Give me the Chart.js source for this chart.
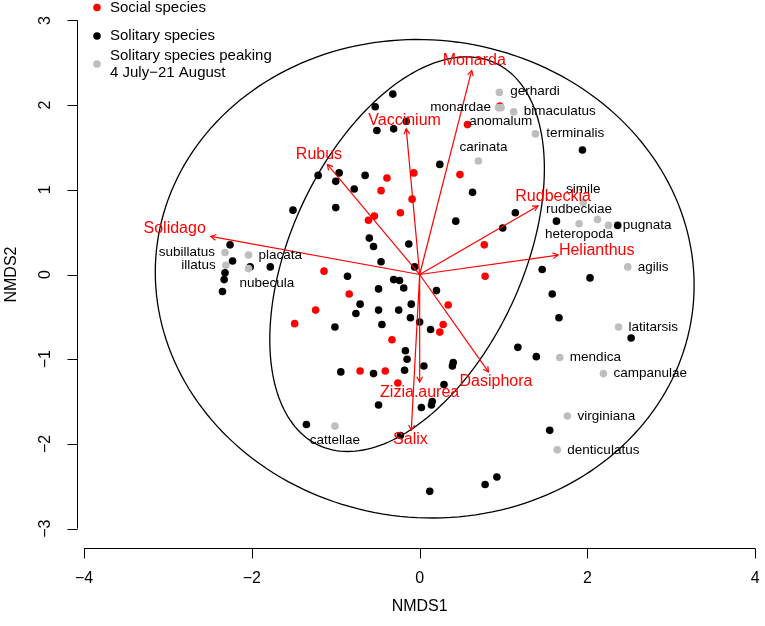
<!DOCTYPE html>
<html>
<head>
<meta charset="utf-8">
<script src="https://cdn.jsdelivr.net/npm/chart.js@4.4.1/dist/chart.umd.min.js"></script>
<style>
html, body { margin: 0; padding: 0; background: #fff; }
canvas { display: block; }
</style>
</head>
<body>
<canvas id="nmds" width="765" height="626"></canvas>
<script>
// site scores, solitary species (black)
var soloX = [-0.32,-0.53,-0.16,-0.51,-0.31,0.24,-0.96,-1.21,-0.65,-1.00,-0.78,0.63,-1.51,-1.00,0.43,0.99,1.14,-0.60,-0.55,-0.13,
	-0.46,-0.06,-1.78,-0.86,-0.31,-0.24,-0.19,-0.49,0.20,-0.71,-0.10,-0.76,-0.49,-0.25,-0.11,0.00,-0.45,-1.01,0.13,-0.17,
	-0.15,0.05,0.40,0.39,-0.94,-0.55,-0.18,0.29,-0.49,0.02,0.15,0.14,-1.35,-0.23,-2.26,-2.23,-2.02,-2.32,-2.33,-2.35,
	1.94,1.63,2.36,1.46,2.03,1.58,1.66,2.52,1.17,1.39,1.55,0.92,0.78,0.12];
var soloY = [2.13,1.98,1.81,1.70,1.72,1.30,1.20,1.17,1.17,1.10,1.01,0.97,0.76,0.79,0.63,0.55,0.73,0.43,0.33,0.36,
	0.15,0.09,0.09,-0.02,-0.06,-0.07,-0.16,-0.17,-0.19,-0.35,-0.35,-0.46,-0.42,-0.42,-0.51,-0.56,-0.59,-0.62,-0.65,-0.90,
	-1.00,-1.08,-1.04,-1.08,-1.15,-1.17,-1.13,-1.30,-1.54,-1.57,-1.50,-1.54,-1.77,-1.90,0.35,0.16,0.09,0.02,-0.06,-0.20,
	1.47,0.63,0.58,0.06,-0.04,-0.23,-0.51,-0.75,-0.86,-0.97,-1.84,-2.39,-2.48,-2.56];

// social species (red)
var socialX = [0.57,-0.39,-0.07,0.48,-0.46,-0.09,-0.54,-0.61,-0.23,0.77,-1.14,0.78,-0.84,-1.24,-1.49,0.34,0.28,0.24,-0.33,-0.71,-0.41,-0.26,0.955];
var socialY = [1.77,1.14,1.20,1.18,0.99,0.89,0.69,0.64,0.73,0.35,0.04,-0.02,-0.23,-0.42,-0.58,-0.36,-0.59,-0.68,-0.77,-1.14,-1.14,-1.28,1.99];

// solitary species peaking 4 July - 21 August (grey)
var peakX = [0.95,0.94,0.97,1.12,1.38,0.70,1.95,1.90,2.12,2.25,2.48,2.37,1.67,2.19,1.76,1.64,-1.01,-2.32,-2.31,-2.04,-2.04];
var peakY = [2.15,1.97,1.97,1.92,1.66,1.34,0.85,0.60,0.65,0.58,0.09,-0.62,-0.98,-1.17,-1.67,-2.07,-1.79,0.26,0.11,0.23,0.07];

// species names
var nameText = ['gerhardi','monardae','bimaculatus','anomalum','terminalis','carinata','simile','rudbeckiae','heteropoda','pugnata',
	'agilis','latitarsis','mendica','campanulae','virginiana','denticulatus','cattellae','subillatus','illatus','placata','nubecula'];
var nameX = [1.08,0.85,1.24,0.59,1.51,0.76,1.95,1.90,1.90,2.42,2.60,2.49,1.79,2.31,1.88,1.76,-1.01,-2.44,-2.43,-1.92,-1.82];
var nameY = [2.16,1.98,1.93,1.81,1.67,1.50,1.01,0.77,0.48,0.58,0.09,-0.62,-0.98,-1.17,-1.67,-2.07,-1.96,0.26,0.11,0.23,-0.10];
var nameAlign = ['left','right','left','left','left','center','center','center','center','left',
	'left','left','left','left','left','left','center','right','right','left','center'];

// envfit vectors (plant genera)
var envNames = ['Monarda','Vaccinium','Rubus','Solidago','Rudbeckia','Helianthus','Dasiphora','Zizia.aurea','Salix'];
var envX = [0.62,-0.16,-1.10,-2.49,1.41,1.65,0.82,0.00,-0.10];
var envY = [2.41,1.72,1.30,0.45,0.81,0.23,-1.15,-1.27,-1.84];
var envLabelX = [0.65,-0.18,-1.20,-2.92,1.59,2.11,0.91,0.00,-0.11];
var envLabelY = [2.53,1.82,1.42,0.54,0.92,0.28,-1.26,-1.40,-1.95];

// ordiellipse: centre, semi axes, angle (deg)
var ellCx = [-0.15, 0.06];
var ellCy = [0.24, -0.05];
var ellA = [2.49, 3.215];
var ellB = [1.38, 2.82];
var ellAngle = [64.9, -6];

var xTicks = [-4, -2, 0, 2, 4];
var yTicks = [-3, -2, -1, 0, 1, 2, 3];

var FONT = '"Liberation Sans", Arial, Helvetica, sans-serif';

function pts(xs, ys) {
	return xs.map(function (v, i) { return { x: v, y: ys[i] }; });
}
function minus(v) {
	return String(v).replace('-', '\u2212');
}

var datasets = [];
envX.forEach(function (v, i) {
	datasets.push({
		label: envNames[i],
		data: [{ x: 0, y: 0 }, { x: v, y: envY[i] }],
		showLine: true,
		borderColor: '#ff0000',
		borderWidth: 1.2,
		pointRadius: 0,
		order: 0
	});
});
datasets.push({ label: 'Solitary species peaking', data: pts(peakX, peakY), backgroundColor: '#bebebe', pointRadius: 3.8, borderWidth: 0, order: 1 });
datasets.push({ label: 'Social species', data: pts(socialX, socialY), backgroundColor: '#ff0000', pointRadius: 3.8, borderWidth: 0, order: 2 });
datasets.push({ label: 'Solitary species', data: pts(soloX, soloY), backgroundColor: '#000000', pointRadius: 3.8, borderWidth: 0, order: 3 });

var rPlot = {
	id: 'rPlot',
	beforeDatasetsDraw: function (chart) {
		var ctx = chart.ctx, sx = chart.scales.x, sy = chart.scales.y;
		ctx.save();
		ctx.strokeStyle = '#000';
		ctx.lineWidth = 1.3;
		for (var e = 0; e < ellCx.length; e++) {
			var th = ellAngle[e] * Math.PI / 180;
			ctx.beginPath();
			for (var k = 0; k <= 200; k++) {
				var t = k / 200 * 2 * Math.PI;
				var dx = ellA[e] * Math.cos(t), dy = ellB[e] * Math.sin(t);
				var X = sx.getPixelForValue(ellCx[e] + dx * Math.cos(th) - dy * Math.sin(th));
				var Y = sy.getPixelForValue(ellCy[e] + dx * Math.sin(th) + dy * Math.cos(th));
				if (k === 0) ctx.moveTo(X, Y); else ctx.lineTo(X, Y);
			}
			ctx.closePath();
			ctx.stroke();
		}
		ctx.restore();
	},
	afterDatasetsDraw: function (chart) {
		var ctx = chart.ctx, sx = chart.scales.x, sy = chart.scales.y;
		var x0 = sx.getPixelForValue(0), y0 = sy.getPixelForValue(0);
		ctx.save();
		// arrow heads
		ctx.strokeStyle = '#ff0000';
		ctx.lineWidth = 1.2;
		envX.forEach(function (v, i) {
			var X = sx.getPixelForValue(v), Y = sy.getPixelForValue(envY[i]);
			var a = Math.atan2(Y - y0, X - x0);
			ctx.beginPath();
			ctx.moveTo(X - 6 * Math.cos(a - 0.5), Y - 6 * Math.sin(a - 0.5));
			ctx.lineTo(X, Y);
			ctx.lineTo(X - 6 * Math.cos(a + 0.5), Y - 6 * Math.sin(a + 0.5));
			ctx.stroke();
		});
		ctx.textBaseline = 'middle';
		// species names
		ctx.fillStyle = '#000';
		ctx.font = '13.5px ' + FONT;
		nameText.forEach(function (s, i) {
			ctx.textAlign = nameAlign[i];
			ctx.fillText(s, sx.getPixelForValue(nameX[i]), sy.getPixelForValue(nameY[i]));
		});
		// vector names
		ctx.fillStyle = '#ff0000';
		ctx.font = '16px ' + FONT;
		ctx.textAlign = 'center';
		envNames.forEach(function (s, i) {
			ctx.fillText(s, sx.getPixelForValue(envLabelX[i]), sy.getPixelForValue(envLabelY[i]));
		});
		ctx.restore();
	},
	afterDraw: function (chart) {
		var ctx = chart.ctx, sx = chart.scales.x, sy = chart.scales.y, area = chart.chartArea;
		ctx.save();
		ctx.strokeStyle = '#000';
		ctx.fillStyle = '#000';
		ctx.lineWidth = 1;
		ctx.font = '16px ' + FONT;
		ctx.textBaseline = 'middle';
		ctx.textAlign = 'center';

		// x axis, R style
		var yb = Math.round(area.bottom) + 0.5;
		ctx.beginPath();
		ctx.moveTo(sx.getPixelForValue(xTicks[0]), yb);
		ctx.lineTo(sx.getPixelForValue(xTicks[xTicks.length - 1]), yb);
		xTicks.forEach(function (v) {
			var X = Math.round(sx.getPixelForValue(v)) + 0.5;
			ctx.moveTo(X, yb);
			ctx.lineTo(X, yb + 10);
		});
		ctx.stroke();
		xTicks.forEach(function (v) {
			ctx.fillText(minus(v), sx.getPixelForValue(v), yb + 30);
		});
		ctx.fillText('NMDS1', sx.getPixelForValue(0), yb + 58);

		// y axis
		var xl = Math.round(area.left) + 0.5;
		ctx.beginPath();
		ctx.moveTo(xl, sy.getPixelForValue(yTicks[0]));
		ctx.lineTo(xl, sy.getPixelForValue(yTicks[yTicks.length - 1]));
		yTicks.forEach(function (v) {
			var Y = Math.round(sy.getPixelForValue(v)) + 0.5;
			ctx.moveTo(xl, Y);
			ctx.lineTo(xl - 10, Y);
		});
		ctx.stroke();
		yTicks.forEach(function (v) {
			ctx.save();
			ctx.translate(xl - 32, sy.getPixelForValue(v));
			ctx.rotate(-Math.PI / 2);
			ctx.fillText(minus(v), 0, 0);
			ctx.restore();
		});
		ctx.save();
		ctx.translate(12, sy.getPixelForValue(0));
		ctx.rotate(-Math.PI / 2);
		ctx.fillText('NMDS2', 0, 0);
		ctx.restore();

		// legend
		var leg = [
			{ c: '#ff0000', y: 7.5, t: ['Social species'] },
			{ c: '#000000', y: 36, t: ['Solitary species'] },
			{ c: '#bebebe', y: 64, t: ['Solitary species peaking', '4 July\u221221 August'] }
		];
		ctx.font = '15px ' + FONT;
		ctx.textAlign = 'left';
		leg.forEach(function (it) {
			ctx.fillStyle = it.c;
			ctx.beginPath();
			ctx.arc(97, it.y, 3.8, 0, 2 * Math.PI);
			ctx.fill();
			ctx.fillStyle = '#000';
			if (it.t.length === 1) {
				ctx.fillText(it.t[0], 110, it.y);
			} else {
				ctx.fillText(it.t[0], 110, it.y - 8.5);
				ctx.fillText(it.t[1], 110, it.y + 8.5);
			}
		});
		ctx.restore();
	}
};

new Chart(document.getElementById('nmds').getContext('2d'), {
	type: 'scatter',
	data: { datasets: datasets },
	options: {
		responsive: false,
		animation: false,
		layout: { padding: { left: 77, right: 0, top: 4, bottom: 78 } },
		scales: {
			x: { type: 'linear', display: false, min: -4.084, max: 4.068 },
			y: { type: 'linear', display: false, min: -3.229, max: 3.194 }
		},
		plugins: {
			legend: { display: false },
			tooltip: { enabled: false }
		}
	},
	plugins: [rPlot]
});
</script>
</body>
</html>
